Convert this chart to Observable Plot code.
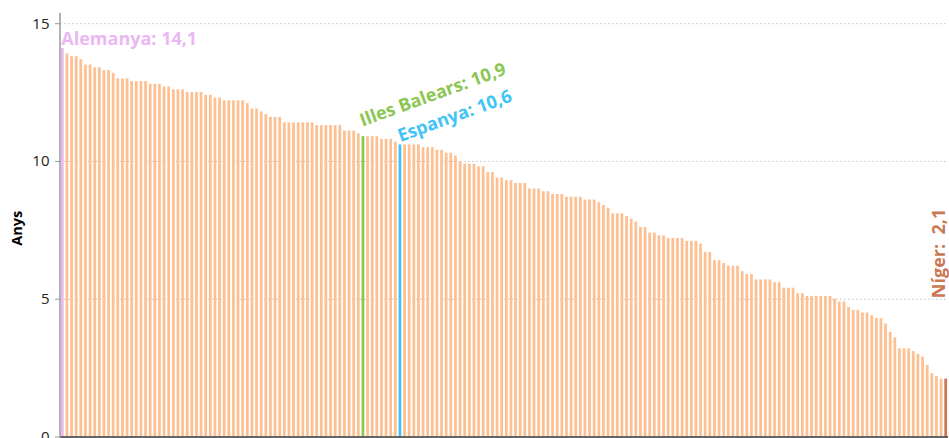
<!DOCTYPE html>
<html><head><meta charset="utf-8">
<script src="https://cdn.jsdelivr.net/npm/d3@7"></script>
<script src="https://cdn.jsdelivr.net/npm/@observablehq/plot@0.6"></script>
<style>
html,body{margin:0;padding:0;background:#fff;}
#chart svg{display:block;}
</style></head><body><div id="chart"></div>
<script>
// Anys d'escolarització, ordenats de més a menys (un valor per país/territori)
const values = [
  14.1, 13.9, 13.8, 13.8, 13.7, 13.5, 13.5, 13.4, 13.4, 13.3,
  13.3, 13.2, 13.0, 13.0, 13.0, 12.9, 12.9, 12.9, 12.9, 12.8,
  12.8, 12.8, 12.7, 12.7, 12.6, 12.6, 12.6, 12.5, 12.5, 12.5,
  12.5, 12.4, 12.4, 12.3, 12.3, 12.2, 12.2, 12.2, 12.2, 12.2,
  12.1, 11.9, 11.9, 11.8, 11.7, 11.6, 11.6, 11.6, 11.4, 11.4,
  11.4, 11.4, 11.4, 11.4, 11.4, 11.3, 11.3, 11.3, 11.3, 11.3,
  11.3, 11.1, 11.1, 11.1, 11.0, 10.9, 10.9, 10.9, 10.9, 10.8,
  10.8, 10.8, 10.7, 10.6, 10.6, 10.6, 10.6, 10.6, 10.5, 10.5,
  10.5, 10.4, 10.4, 10.3, 10.3, 10.2, 10.0, 9.9, 9.9, 9.9,
  9.8, 9.8, 9.6, 9.6, 9.4, 9.4, 9.3, 9.3, 9.2, 9.2,
  9.2, 9.0, 9.0, 9.0, 8.9, 8.9, 8.8, 8.8, 8.8, 8.7,
  8.7, 8.7, 8.7, 8.6, 8.6, 8.6, 8.5, 8.4, 8.3, 8.1,
  8.1, 8.1, 8.0, 7.9, 7.8, 7.6, 7.6, 7.4, 7.4, 7.3,
  7.3, 7.2, 7.2, 7.2, 7.2, 7.1, 7.1, 7.1, 7.0, 6.7,
  6.7, 6.4, 6.4, 6.3, 6.2, 6.2, 6.2, 6.0, 5.9, 5.9,
  5.7, 5.7, 5.7, 5.7, 5.6, 5.6, 5.4, 5.4, 5.4, 5.2,
  5.2, 5.1, 5.1, 5.1, 5.1, 5.1, 5.1, 5.0, 4.9, 4.9,
  4.7, 4.6, 4.6, 4.5, 4.5, 4.4, 4.3, 4.3, 4.1, 3.8,
  3.6, 3.2, 3.2, 3.2, 3.1, 3.0, 2.9, 2.6, 2.3, 2.2,
  2.1, 2.1
];
const highlightIndex = [0, 65, 73, 191];
const highlightName = ["Alemanya", "Illes Balears", "Espanya", "Níger"];
const yTicks = [0, 5, 10, 15];
const yLabel = "Anys";

// styles
const baseColor = "#fdc092";
const highlightColor = ["#ebb8f3", "#8cc653", "#40c4f6", "#cc7753"];

const data = values.map((v, i) => {
  const h = highlightIndex.indexOf(i);
  return {key: i, value: v, name: h >= 0 ? highlightName[h] : null,
          color: h >= 0 ? highlightColor[h] : baseColor};
});
const num = v => d3.format(".1f")(v).replace(".", ",");
const fmt = d => `${d.name}:\u00a0${num(d.value)}`;
const fmtPad = d => `${d.name}:\u00a0\u00a0${num(d.value)}`;
const hl = i => [data[highlightIndex[i]]];
const labelStyle = {x: "key", y: "value", text: fmt, fill: "color", fontWeight: "bold",
                    fontSize: 18, textAnchor: "start", lineAnchor: "bottom"};

const chart = Plot.plot({
  width: 949, height: 438,
  marginLeft: 60, marginRight: 1, marginTop: 13, marginBottom: 1.5,
  style: {fontFamily: "'Open Sans', sans-serif", fontSize: "15px", background: "#fff"},
  x: {type: "band", domain: data.map(d => d.key), paddingInner: 0.4, paddingOuter: 0.2, axis: null},
  y: {domain: [0, 15.37], axis: null},
  color: {type: "identity"},
  marks: [
    Plot.gridY(yTicks.filter(t => t > 0), {stroke: "#c4c4c4", strokeOpacity: 1, strokeDasharray: "1.5,2.5"}),
    Plot.barY(data, {x: "key", y: "value", fill: "color"}),
    Plot.ruleY([0], {stroke: "#333", strokeWidth: 1.5}),
    Plot.frame({anchor: "left", stroke: "#9a9a9a", strokeWidth: 1.5, dx: -0.5}),
    Plot.axisY(yTicks, {tickSize: 5, tickPadding: 6, stroke: "#9a9a9a", fill: "#222", fontSize: 15, label: null}),
    Plot.text([yLabel], {frameAnchor: "left", rotate: -90, dx: -38.5, dy: 3, lineAnchor: "bottom",
                         textAnchor: "middle", fontWeight: "bold", fontSize: 14.5, fill: "#000"}),
    Plot.text(hl(0), {...labelStyle, dx: -1.5, dy: -3}),
    Plot.text(hl(1), {...labelStyle, rotate: -20, dx: -1, dy: -10}),
    Plot.text(hl(2), {...labelStyle, rotate: -20, dx: 0, dy: -3}),
    Plot.text(hl(3), {...labelStyle, text: fmtPad, rotate: -90, dx: -1.5, dy: -81})
  ]
});
document.getElementById("chart").appendChild(chart);
</script></body></html>
